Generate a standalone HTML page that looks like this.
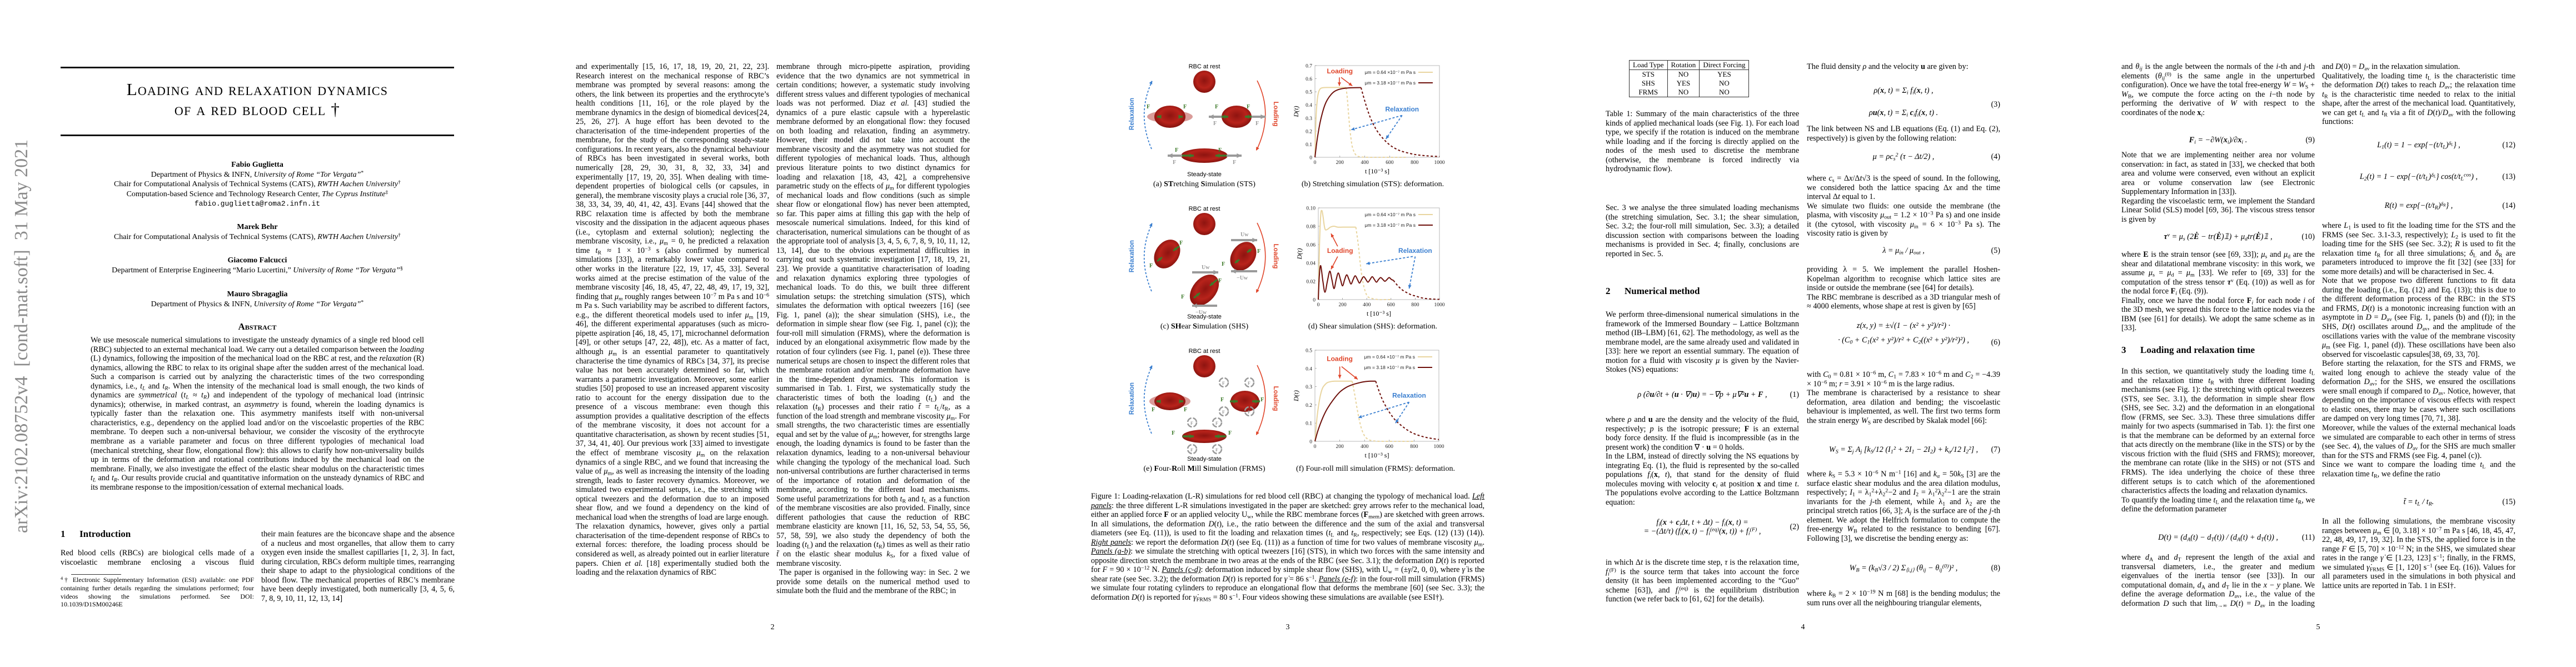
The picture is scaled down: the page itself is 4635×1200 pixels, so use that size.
<!DOCTYPE html>
<html lang="en">
<head>
<meta charset="utf-8">
<title>Loading and relaxation dynamics of a red blood cell</title>
<style>
html,body{margin:0;padding:0;background:#fff;}
body{width:4635px;height:1200px;position:relative;overflow:hidden;font-family:"Liberation Serif",serif;color:#000;}
.abs{position:absolute;}
.col{position:absolute;width:348px;font-size:14.2px;line-height:16.55px;text-align:justify;hyphens:auto;overflow:hidden;}
.wide{position:absolute;width:708px;font-size:14.2px;line-height:16.55px;text-align:justify;hyphens:auto;}
.eq{position:absolute;width:348px;font-size:14.2px;line-height:16px;text-align:center;font-style:italic;}
.eq .n{position:absolute;right:0;top:0;font-style:normal;}
.h{position:absolute;font-weight:bold;font-size:17px;line-height:20px;}
.h span{display:inline-block;width:34px;}
.pn{position:absolute;width:40px;text-align:center;font-size:14px;}
sub,sup{font-size:70%;line-height:0;}
sub{vertical-align:-0.25em;}
sup{vertical-align:0.45em;}
.ctr{position:absolute;text-align:center;}
table.t1{border-collapse:collapse;font-size:13px;line-height:16px;}
table.t1 td{border-left:1px solid #333;border-right:1px solid #333;padding:0 6px;text-align:center;}
table.t1 tr:first-child td{border-top:1px solid #333;border-bottom:1px solid #333;}
table.t1 tr:last-child td{border-bottom:1px solid #333;}
</style>
</head>
<body>

<div class="abs" style="left:39px;top:605px;transform:translate(-50%,-50%) rotate(-90deg);white-space:nowrap;font-size:34px;color:#8a8a8a;">arXiv:2102.08752v4&nbsp; [cond-mat.soft]&nbsp; 31 May 2021</div>

<!-- PAGE 1 -->
<div class="abs" style="left:109px;top:120px;width:708px;height:3px;background:#111;"></div>
<div class="ctr" style="left:109px;top:143px;width:708px;font-size:31px;line-height:36px;font-variant:small-caps;letter-spacing:1.2px;">Loading and relaxation dynamics<br>of a red blood cell †</div>
<div class="abs" style="left:109px;top:242px;width:708px;height:3px;background:#111;"></div>

<div class="ctr" style="left:109px;top:288px;width:708px;font-size:14px;line-height:17.6px;">
<b>Fabio Guglietta</b><br>Department of Physics &amp; INFN, <i>University of Rome “Tor Vergata”</i><sup>*</sup><br>Chair for Computational Analysis of Technical Systems (CATS), <i>RWTH Aachen University</i><sup>†</sup><br>Computation-based Science and Technology Research Center, <i>The Cyprus Institute</i><sup>‡</sup><br><span style="font-family:'Liberation Mono',monospace;font-size:13px;">fabio.guglietta@roma2.infn.it</span>
</div>
<div class="ctr" style="left:109px;top:400px;width:708px;font-size:14px;line-height:17.6px;"><b>Marek Behr</b><br>Chair for Computational Analysis of Technical Systems (CATS), <i>RWTH Aachen University</i><sup>†</sup></div>
<div class="ctr" style="left:109px;top:460px;width:708px;font-size:14px;line-height:17.6px;"><b>Giacomo Falcucci</b><br>Department of Enterprise Engineering “Mario Lucertini,” <i>University of Rome “Tor Vergata”</i><sup>§</sup></div>
<div class="ctr" style="left:109px;top:521px;width:708px;font-size:14px;line-height:17.6px;"><b>Mauro Sbragaglia</b><br>Department of Physics &amp; INFN, <i>University of Rome “Tor Vergata”</i><sup>*</sup></div>

<div class="ctr" style="left:109px;top:578px;width:708px;font-size:17px;font-weight:bold;font-variant:small-caps;">Abstract</div>
<div class="wide" style="left:163px;top:604px;width:600px;">We use mesoscale numerical simulations to investigate the unsteady dynamics of a single red blood cell (RBC) subjected to an external mechanical load. We carry out a detailed comparison between the <i>loading</i> (L) dynamics, following the imposition of the mechanical load on the RBC at rest, and the <i>relaxation</i> (R) dynamics, allowing the RBC to relax to its original shape after the sudden arrest of the mechanical load. Such a comparison is carried out by analyzing the characteristic times of the two corresponding dynamics, i.e., <i>t<sub>L</sub></i> and <i>t<sub>R</sub></i>. When the intensity of the mechanical load is small enough, the two kinds of dynamics are <i>symmetrical</i> (<i>t<sub>L</sub></i> ≈ <i>t<sub>R</sub></i>) and independent of the typology of mechanical load (intrinsic dynamics); otherwise, in marked contrast, an <i>asymmetry</i> is found, wherein the loading dynamics is typically faster than the relaxation one. This asymmetry manifests itself with non-universal characteristics, e.g., dependency on the applied load and/or on the viscoelastic properties of the RBC membrane. To deepen such a non-universal behaviour, we consider the viscosity of the erythrocyte membrane as a variable parameter and focus on three different typologies of mechanical load (mechanical stretching, shear flow, elongational flow): this allows to clarify how non-universality builds up in terms of the deformation and rotational contributions induced by the mechanical load on the membrane. Finally, we also investigate the effect of the elastic shear modulus on the characteristic times <i>t<sub>L</sub></i> and <i>t<sub>R</sub></i>. Our results provide crucial and quantitative information on the unsteady dynamics of RBC and its membrane response to the imposition/cessation of external mechanical loads.</div>

<div class="h" style="left:109px;top:951px;"><span>1</span>Introduction</div>
<div class="col" style="left:109px;top:987px;height:34px;">Red blood cells (RBCs) are biological cells made of a viscoelastic membrane enclosing a viscous fluid (cytoplasm):</div>
<div class="abs" style="left:128px;top:1033px;width:90px;height:1px;background:#333;"></div>
<div class="col" style="left:109px;top:1036px;font-size:12px;line-height:14.8px;height:60px;"><sup>4</sup>† Electronic Supplementary Information (ESI) available: one PDF containing further details regarding the simulations performed; four videos showing the simulations performed. See DOI: 10.1039/D1SM00246E</div>
<div class="col" style="left:470px;top:953px;height:133px;">their main features are the biconcave shape and the absence of a nucleus and most organelles, that allow them to carry oxygen even inside the smallest capillaries [1, 2, 3]. In fact, during circulation, RBCs deform multiple times, rearranging their shape to adapt to the physiological conditions of the blood flow. The mechanical properties of RBC’s membrane have been deeply investigated, both numerically [3, 4, 5, 6, 7, 8, 9, 10, 11, 12, 13, 14]</div>

<!-- PAGE 2 -->
<div class="col" style="left:1036px;top:112px;height:983px;">and experimentally [15, 16, 17, 18, 19, 20, 21, 22, 23]. Research interest on the mechanical response of RBC’s membrane was prompted by several reasons: among the others, the link between its properties and the erythrocyte’s health conditions [11, 16], or the role played by the membrane dynamics in the design of biomedical devices[24, 25, 26, 27]. A huge effort has been devoted to the characterisation of the time-independent properties of the membrane, for the study of the corresponding steady-state configurations. In recent years, also the dynamical behaviour of RBCs has been investigated in several works, both numerically [28, 29, 30, 31, 8, 32, 33, 34] and experimentally [17, 19, 20, 35]. When dealing with time-dependent properties of biological cells (or capsules, in general), the membrane viscosity plays a crucial role [36, 37, 38, 33, 34, 39, 40, 41, 42, 43]. Evans [44] showed that the RBC relaxation time is affected by both the membrane viscosity and the dissipation in the adjacent aqueous phases (i.e., cytoplasm and external solution); neglecting the membrane viscosity, i.e., <i>μ</i><sub>m</sub> = 0, he predicted a relaxation time <i>t</i><sub>R</sub> ≈ 1 × 10<sup>−3</sup> s (also confirmed by numerical simulations [33]), a remarkably lower value compared to other works in the literature [22, 19, 17, 45, 33]. Several works aimed at the precise estimation of the value of the membrane viscosity [46, 18, 45, 47, 22, 48, 49, 17, 19, 32], finding that <i>μ<sub>m</sub></i> roughly ranges between 10<sup>−7</sup> m Pa s and 10<sup>−6</sup> m Pa s. Such variability may be ascribed to different factors, e.g., the different theoretical models used to infer <i>μ</i><sub>m</sub> [19, 46], the different experimental apparatuses (such as micro-pipette aspiration [46, 18, 45, 17], microchannel deformation [49], or other setups [47, 22, 48]), etc. As a matter of fact, although <i>μ</i><sub>m</sub> is an essential parameter to quantitatively characterise the time dynamics of RBCs [34, 37], its precise value has not been accurately determined so far, which warrants a parametric investigation. Moreover, some earlier studies [50] proposed to use an increased apparent viscosity ratio to account for the energy dissipation due to the presence of a viscous membrane: even though this assumption provides a qualitative description of the effects of the membrane viscosity, it does not account for a quantitative characterisation, as shown by recent studies [51, 37, 34, 41, 40]. Our previous work [33] aimed to investigate the effect of membrane viscosity <i>μ</i><sub>m</sub> on the relaxation dynamics of a single RBC, and we found that increasing the value of <i>μ</i><sub>m</sub>, as well as increasing the intensity of the loading strength, leads to faster recovery dynamics. Moreover, we simulated two experimental setups, i.e., the stretching with optical tweezers and the deformation due to an imposed shear flow, and we found a dependency on the kind of mechanical load when the strengths of load are large enough.<br>The relaxation dynamics, however, gives only a partial characterisation of the time-dependent response of RBCs to external forces: therefore, the loading process should be considered as well, as already pointed out in earlier literature papers. Chien <i>et al.</i> [18] experimentally studied both the loading and the relaxation dynamics of RBC</div>
<div class="col" style="left:1397px;top:112px;height:983px;">membrane through micro-pipette aspiration, providing evidence that the two dynamics are not symmetrical in certain conditions; however, a systematic study involving different stress values and different typologies of mechanical loads was not performed. Diaz <i>et al.</i> [43] studied the dynamics of a pure elastic capsule with a hyperelastic membrane deformed by an elongational flow: they focused on both loading and relaxation, finding an asymmetry. However, their model did not take into account the membrane viscosity and the asymmetry was not studied for different typologies of mechanical loads. Thus, although previous literature points to two distinct dynamics for loading and relaxation [18, 43, 42], a comprehensive parametric study on the effects of <i>μ</i><sub>m</sub> for different typologies of mechanical loads and flow conditions (such as simple shear flow or elongational flow) has never been attempted, so far. This paper aims at filling this gap with the help of mesoscale numerical simulations. Indeed, for this kind of characterisation, numerical simulations can be thought of as the appropriate tool of analysis [3, 4, 5, 6, 7, 8, 9, 10, 11, 12, 13, 14], due to the obvious experimental difficulties in carrying out such systematic investigation [17, 18, 19, 21, 23]. We provide a quantitative characterisation of loading and relaxation dynamics exploring three typologies of mechanical loads. To do this, we built three different simulation setups: the stretching simulation (STS), which simulates the deformation with optical tweezers [16] (see Fig. 1, panel (a)); the shear simulation (SHS), i.e., the deformation in simple shear flow (see Fig. 1, panel (c)); the four-roll mill simulation (FRMS), where the deformation is induced by an elongational axisymmetric flow made by the rotation of four cylinders (see Fig. 1, panel (e)). These three numerical setups are chosen to inspect the different roles that the membrane rotation and/or membrane deformation have in the time-dependent dynamics. This information is summarised in Tab. 1. First, we systematically study the characteristic times of both the loading (<i>t</i><sub>L</sub>) and the relaxation (<i>t</i><sub>R</sub>) processes and their ratio <i>t̃</i> = <i>t</i><sub>L</sub>/<i>t</i><sub>R</sub>, as a function of the load strength and membrane viscosity <i>μ</i><sub>m</sub>. For small strengths, the two characteristic times are essentially equal and set by the value of <i>μ</i><sub>m</sub>; however, for strengths large enough, the loading dynamics is found to be faster than the relaxation dynamics, leading to a non-universal behaviour while changing the typology of the mechanical load. Such non-universal contributions are further characterised in terms of the importance of rotation and deformation of the membrane, according to the different load mechanisms. Some useful parametrizations for both <i>t</i><sub>R</sub> and <i>t</i><sub>L</sub> as a function of the membrane viscosities are also provided. Finally, since different pathologies that cause the reduction of RBC membrane elasticity are known [11, 16, 52, 53, 54, 55, 56, 57, 58, 59], we also study the dependency of both the loading (<i>t</i><sub>L</sub>) and the relaxation (<i>t</i><sub>R</sub>) times as well as their ratio <i>t̃</i> on the elastic shear modulus <i>k</i><sub>S</sub>, for a fixed value of membrane viscosity.<br>&nbsp;The paper is organised in the following way: in Sec. 2 we provide some details on the numerical method used to simulate both the fluid and the membrane of the RBC; in</div>
<div class="pn" style="left:1370px;top:1121px;">2</div>

<!-- PAGE 3 -->
<svg id="fig" class="abs" style="left:0;top:0;" width="4635" height="1200" xmlns="http://www.w3.org/2000/svg"></svg>
<div class="ctr" style="left:2017px;top:324px;width:300px;font-size:14px;">(a) <b>ST</b>retching <b>S</b>imulation (STS)</div>
<div class="ctr" style="left:2320px;top:324px;width:300px;font-size:14px;">(b) Stretching simulation (STS): deformation.</div>
<div class="ctr" style="left:2017px;top:580px;width:300px;font-size:14px;">(c) <b>SH</b>ear <b>S</b>imulation (SHS)</div>
<div class="ctr" style="left:2320px;top:580px;width:300px;font-size:14px;">(d) Shear simulation (SHS): deformation.</div>
<div class="ctr" style="left:2017px;top:836px;width:300px;font-size:14px;">(e) <b>F</b>our-<b>R</b>oll <b>M</b>ill <b>S</b>imulation (FRMS)</div>
<div class="ctr" style="left:2310px;top:836px;width:330px;font-size:14px;">(f) Four-roll mill simulation (FRMS): deformation.</div>
<div class="wide" style="left:1963px;top:885px;">Figure 1: Loading-relaxation (L-R) simulations for red blood cell (RBC) at changing the typology of mechanical load. <i><u>Left panels</u></i>: the three different L-R simulations investigated in the paper are sketched: grey arrows refer to the mechanical load, either an applied force <b>F</b> or an applied velocity U<sub>w</sub>, while the RBC membrane forces (<b>F</b><sub>mem</sub>) are sketched with green arrows. In all simulations, the deformation <i>D</i>(<i>t</i>), i.e., the ratio between the difference and the sum of the axial and transversal diameters (see Eq. (11)), is used to fit the loading and relaxation times (<i>t</i><sub>L</sub> and <i>t</i><sub>R</sub>, respectively; see Eqs. (12) (13) (14)). <i><u>Right panels</u></i>: we report the deformation <i>D</i>(<i>t</i>) (see Eq. (11)) as a function of time for two values of membrane viscosity <i>μ</i><sub>m</sub>. <i><u>Panels (a-b)</u></i>: we simulate the stretching with optical tweezers [16] (STS), in which two forces with the same intensity and opposite direction stretch the membrane in two areas at the ends of the RBC (see Sec. 3.1); the deformation <i>D</i>(<i>t</i>) is reported for <i>F</i> = 90 × 10<sup>−12</sup> N. <i><u>Panels (c-d)</u></i>: deformation induced by simple shear flow (SHS), with U<sub>w</sub> = (±<i>γ̇</i>/2, 0, 0), where <i>γ̇</i> is the shear rate (see Sec. 3.2); the deformation <i>D</i>(<i>t</i>) is reported for <i>γ̇</i> = 86 s<sup>−1</sup>. <i><u>Panels (e-f)</u></i>: in the four-roll mill simulation (FRMS) we simulate four rotating cylinders to reproduce an elongational flow that deforms the membrane [60] (see Sec. 3.3); the deformation <i>D</i>(<i>t</i>) is reported for <i>γ̇</i><sub>FRMS</sub> = 80 s<sup>−1</sup>. Four videos showing these simulations are available (see ESI†).</div>
<div class="pn" style="left:2297px;top:1121px;">3</div>

<!-- PAGE 4 -->
<div class="abs" style="left:2931px;top:108px;">
<table class="t1"><tr><td>Load Type</td><td>Rotation</td><td>Direct Forcing</td></tr><tr><td>STS</td><td>NO</td><td>YES</td></tr><tr><td>SHS</td><td>YES</td><td>NO</td></tr><tr><td>FRMS</td><td>NO</td><td>NO</td></tr></table></div>
<div class="col" style="left:2889px;top:197px;height:118px;">Table 1: Summary of the main characteristics of the three kinds of applied mechanical loads (see Fig. 1). For each load type, we specify if the rotation is induced on the membrane while loading and if the forcing is directly applied on the nodes of the mesh used to discretise the membrane (otherwise, the membrane is forced indirectly via hydrodynamic flow).</div>
<div class="col" style="left:2889px;top:366px;height:100px;">Sec. 3 we analyse the three simulated loading mechanisms (the stretching simulation, Sec. 3.1; the shear simulation, Sec. 3.2; the four-roll mill simulation, Sec. 3.3); a detailed discussion section with comparisons between the loading mechanisms is provided in Sec. 4; finally, conclusions are reported in Sec. 5.</div>
<div class="h" style="left:2889px;top:514px;"><span>2</span>Numerical method</div>
<div class="col" style="left:2889px;top:558px;height:117px;">We perform three-dimensional numerical simulations in the framework of the Immersed Boundary – Lattice Boltzmann method (IB–LBM) [61, 62]. The methodology, as well as the membrane model, are the same already used and validated in [33]: here we report an essential summary. The equation of motion for a fluid with viscosity <i>μ</i> is given by the Navier-Stokes (NS) equations:</div>
<div class="eq" style="left:2889px;top:702px;">ρ (∂<b>u</b>/∂t + (<b>u</b> · ∇)<b>u</b>) = −∇p + μ∇²<b>u</b> + <b>F</b> ,<span class="n">(1)</span></div>
<div class="col" style="left:2889px;top:747px;height:166px;">where <i>ρ</i> and <b>u</b> are the density and the velocity of the fluid, respectively; <i>p</i> is the isotropic pressure; <b>F</b> is an external body force density. If the fluid is incompressible (as in the present work) the condition ∇ · <b>u</b> = 0 holds.<br>In the LBM, instead of directly solving the NS equations by integrating Eq. (1), the fluid is represented by the so-called populations <i>f<sub>i</sub></i>(<b>x</b>, <i>t</i>), that stand for the density of fluid molecules moving with velocity <b>c</b><sub><i>i</i></sub> at position <b>x</b> and time <i>t</i>. The populations evolve according to the Lattice Boltzmann equation:</div>
<div class="eq" style="left:2889px;top:932px;">f<sub>i</sub>(<b>x</b> + <b>c</b><sub>i</sub>Δt, t + Δt) − f<sub>i</sub>(<b>x</b>, t) =<br>= −(Δt/τ) (f<sub>i</sub>(<b>x</b>, t) − f<sub>i</sub><sup>(eq)</sup>(<b>x</b>, t)) + f<sub>i</sub><sup>(F)</sup> ,<span class="n" style="top:8px;">(2)</span></div>
<div class="col" style="left:2889px;top:1004px;height:86px;">in which Δ<i>t</i> is the discrete time step, <i>τ</i> is the relaxation time, <i>f<sub>i</sub></i><sup>(F)</sup> is the source term that takes into account the force density (it has been implemented according to the “Guo” scheme [63]), and <i>f<sub>i</sub></i><sup>(eq)</sup> is the equilibrium distribution function (we refer back to [61, 62] for the details).</div>

<div class="col" style="left:3251px;top:112px;height:17px;">The fluid density <i>ρ</i> and the velocity <b>u</b> are given by:</div>
<div class="eq" style="left:3251px;top:143px;line-height:40px;">ρ(<b>x</b>, t) = Σ<sub>i</sub> f<sub>i</sub>(<b>x</b>, t) ,<br>ρ<b>u</b>(<b>x</b>, t) = Σ<sub>i</sub> <b>c</b><sub>i</sub>f<sub>i</sub>(<b>x</b>, t) .<span class="n" style="top:25px;">(3)</span></div>
<div class="col" style="left:3251px;top:224px;height:34px;">The link between NS and LB equations (Eq. (1) and Eq. (2), respectively) is given by the following relation:</div>
<div class="eq" style="left:3251px;top:274px;">μ = ρc<sub>s</sub><sup>2</sup> (τ − Δt/2) ,<span class="n">(4)</span></div>
<div class="col" style="left:3251px;top:313px;height:117px;">where <i>c</i><sub>s</sub> = Δ<i>x</i>/Δ<i>t</i>√3 is the speed of sound. In the following, we considered both the lattice spacing Δ<i>x</i> and the time interval Δ<i>t</i> equal to 1.<br>We simulate two fluids: one outside the membrane (the plasma, with viscosity <i>μ</i><sub>out</sub> = 1.2 × 10<sup>−3</sup> Pa s) and one inside it (the cytosol, with viscosity <i>μ</i><sub>in</sub> = 6 × 10<sup>−3</sup> Pa s). The viscosity ratio is given by</div>
<div class="eq" style="left:3251px;top:443px;">λ = μ<sub>in</sub> / μ<sub>out</sub> ,<span class="n">(5)</span></div>
<div class="col" style="left:3251px;top:477px;height:84px;">providing λ = 5. We implement the parallel Hoshen-Kopelman algorithm to recognise which lattice sites are inside or outside the membrane (see [64] for details).<br>The RBC membrane is described as a 3D triangular mesh of ≈ 4000 elements, whose shape at rest is given by [65]</div>
<div class="eq" style="left:3251px;top:573px;line-height:26px;">z(x, y) = ±√(1 − (x² + y²)/r²) ·<br>· (C<sub>0</sub> + C<sub>1</sub>(x² + y²)/r² + C<sub>2</sub>((x² + y²)/r²)²) ,<span class="n" style="top:30px;">(6)</span></div>
<div class="col" style="left:3251px;top:666px;height:117px;">with <i>C</i><sub>0</sub> = 0.81 × 10<sup>−6</sup> m, <i>C</i><sub>1</sub> = 7.83 × 10<sup>−6</sup> m and <i>C</i><sub>2</sub> = −4.39 × 10<sup>−6</sup> m; <i>r</i> = 3.91 × 10<sup>−6</sup> m is the large radius.<br>The membrane is characterised by a resistance to shear deformation, area dilation and bending; the viscoelastic behaviour is implemented, as well. The first two terms form the strain energy <i>W</i><sub>S</sub> are described by Skalak model [66]:</div>
<div class="eq" style="left:3251px;top:801px;">W<sub>S</sub> = Σ<sub>j</sub> A<sub>j</sub> [k<sub>S</sub>/12 (I<sub>1</sub>² + 2I<sub>1</sub> − 2I<sub>2</sub>) + k<sub>α</sub>/12 I<sub>2</sub>²] ,<span class="n">(7)</span></div>
<div class="col" style="left:3251px;top:845px;height:150px;">where <i>k</i><sub>S</sub> = 5.3 × 10<sup>−6</sup> N m<sup>−1</sup> [16] and <i>k<sub>α</sub></i> = 50<i>k</i><sub>S</sub> [3] are the surface elastic shear modulus and the area dilation modulus, respectively; <i>I</i><sub>1</sub> = λ<sub>1</sub><sup>2</sup>+λ<sub>2</sub><sup>2</sup>−2 and <i>I</i><sub>2</sub> = λ<sub>1</sub><sup>2</sup>λ<sub>2</sub><sup>2</sup>−1 are the strain invariants for the <i>j</i>-th element, while λ<sub>1</sub> and λ<sub>2</sub> are the principal stretch ratios [66, 3]; <i>A<sub>j</sub></i> is the surface are of the <i>j</i>-th element. We adopt the Helfrich formulation to compute the free-energy <i>W</i><sub>B</sub> related to the resistance to bending [67]. Following [3], we discretise the bending energy as:</div>
<div class="eq" style="left:3251px;top:1014px;">W<sub>B</sub> = (k<sub>B</sub>√3 / 2) Σ<sub>⟨i,j⟩</sub> (θ<sub>ij</sub> − θ<sub>ij</sub><sup>(0)</sup>)² ,<span class="n">(8)</span></div>
<div class="col" style="left:3251px;top:1060px;height:34px;">where <i>k</i><sub>B</sub> = 2 × 10<sup>−19</sup> N m [68] is the bending modulus; the sum runs over all the neighbouring triangular elements,</div>
<div class="pn" style="left:3224px;top:1121px;">4</div>

<!-- PAGE 5 -->
<div class="col" style="left:3817px;top:112px;height:100px;">and <i>θ<sub>ij</sub></i> is the angle between the normals of the <i>i</i>-th and <i>j</i>-th elements (<i>θ<sub>ij</sub></i><sup>(0)</sup> is the same angle in the unperturbed configuration). Once we have the total free-energy <i>W</i> = <i>W</i><sub>S</sub> + <i>W</i><sub>B</sub>, we compute the force acting on the <i>i</i>−th node by performing the derivative of <i>W</i> with respect to the coordinates of the node <b>x</b><sub><i>i</i></sub>:</div>
<div class="eq" style="left:3817px;top:244px;"><b>F</b><sub>i</sub> = −∂W(<b>x</b><sub>i</sub>)/∂<b>x</b><sub>i</sub> .<span class="n">(9)</span></div>
<div class="col" style="left:3817px;top:271px;height:133px;">Note that we are implementing neither area nor volume conservation: in fact, as stated in [33], we checked that both area and volume were conserved, even without an explicit area or volume conservation law (see Electronic Supplementary Information in [33]).<br>Regarding the viscoelastic term, we implement the Standard Linear Solid (SLS) model [69, 36]. The viscous stress tensor is given by</div>
<div class="eq" style="left:3817px;top:418px;"><b>τ</b><sup>ν</sup> = μ<sub>s</sub> (2<b>Ė</b> − tr(<b>Ė</b>)𝟙) + μ<sub>d</sub>tr(<b>Ė</b>)𝟙 ,<span class="n">(10)</span></div>
<div class="col" style="left:3817px;top:450px;height:150px;">where <b>E</b> is the strain tensor (see [69, 33]); <i>μ</i><sub>s</sub> and <i>μ</i><sub>d</sub> are the shear and dilatational membrane viscosity: in this work, we assume <i>μ</i><sub>s</sub> = <i>μ</i><sub>d</sub> = <i>μ</i><sub>m</sub> [33]. We refer to [69, 33] for the computation of the stress tensor <b><i>τ</i></b><sup>ν</sup> (Eq. (10)) as well as for the nodal force <b>F</b><sub><i>i</i></sub> (Eq. (9)).<br>Finally, once we have the nodal force <b>F</b><sub><i>i</i></sub> for each node <i>i</i> of the 3D mesh, we spread this force to the lattice nodes via the IBM (see [61] for details). We adopt the same scheme as in [33].</div>
<div class="h" style="left:3817px;top:620px;"><span>3</span>Loading and relaxation time</div>
<div class="col" style="left:3817px;top:660px;height:282px;">In this section, we quantitatively study the loading time <i>t</i><sub>L</sub> and the relaxation time <i>t</i><sub>R</sub> with three different loading mechanisms (see Fig. 1): the stretching with optical tweezers (STS, see Sec. 3.1), the deformation in simple shear flow (SHS, see Sec. 3.2) and the deformation in an elongational flow (FRMS, see Sec. 3.3). These three simulations differ mainly for two aspects (summarised in Tab. 1): the first one is that the membrane can be deformed by an external force that acts directly on the membrane (like in the STS) or by the viscous friction with the fluid (SHS and FRMS); moreover, the membrane can rotate (like in the SHS) or not (STS and FRMS). The idea underlying the choice of these three different setups is to catch which of the aforementioned characteristics affects the loading and relaxation dynamics.<br>To quantify the loading time <i>t</i><sub>L</sub> and the relaxation time <i>t</i><sub>R</sub>, we define the deformation parameter</div>
<div class="eq" style="left:3817px;top:959px;">D(t) = (d<sub>A</sub>(t) − d<sub>T</sub>(t)) / (d<sub>A</sub>(t) + d<sub>T</sub>(t)) ,<span class="n">(11)</span></div>
<div class="col" style="left:3817px;top:995px;height:100px;">where <i>d</i><sub>A</sub> and <i>d</i><sub>T</sub> represent the length of the axial and transversal diameters, i.e., the greater and medium eigenvalues of the inertia tensor (see [33]). In our computational domain, <i>d</i><sub>A</sub> and <i>d</i><sub>T</sub> lie in the <i>x</i> − <i>y</i> plane. We define the average deformation <i>D</i><sub>av</sub>, i.e., the value of the deformation <i>D</i> such that lim<sub><i>t</i>→∞</sub> <i>D</i>(<i>t</i>) = <i>D</i><sub>av</sub> in the loading simulation</div>

<div class="col" style="left:4178px;top:112px;height:117px;">and <i>D</i>(0) = <i>D</i><sub>av</sub> in the relaxation simulation.<br>Qualitatively, the loading time <i>t</i><sub>L</sub> is the characteristic time the deformation <i>D</i>(<i>t</i>) takes to reach <i>D</i><sub>av</sub>; the relaxation time <i>t</i><sub>R</sub> is the characteristic time needed to relax to the initial shape, after the arrest of the mechanical load. Quantitatively, we can get <i>t</i><sub>L</sub> and <i>t</i><sub>R</sub> via a fit of <i>D</i>(<i>t</i>)/<i>D</i><sub>av</sub> with the following functions:</div>
<div class="eq" style="left:4178px;top:253px;">L<sub>1</sub>(t) = 1 − exp{−(t/t<sub>L</sub>)<sup>δ<sub>L</sub></sup>} ,<span class="n">(12)</span></div>
<div class="eq" style="left:4178px;top:310px;">L<sub>2</sub>(t) = 1 − exp{−(t/t<sub>L</sub>)<sup>δ<sub>L</sub></sup>} cos(t/t<sub>L</sub><sup>cos</sup>) ,<span class="n">(13)</span></div>
<div class="eq" style="left:4178px;top:362px;">R(t) = exp{−(t/t<sub>R</sub>)<sup>δ<sub>R</sub></sup>} ,<span class="n">(14)</span></div>
<div class="col" style="left:4178px;top:398px;height:482px;">where <i>L</i><sub>1</sub> is used to fit the loading time for the STS and the FRMS (see Sec. 3.1-3.3, respectively); <i>L</i><sub>2</sub> is used to fit the loading time for the SHS (see Sec. 3.2); <i>R</i> is used to fit the relaxation time <i>t</i><sub>R</sub> for all three simulations; <i>δ</i><sub>L</sub> and <i>δ</i><sub>R</sub> are parameters introduced to improve the fit [32] (see [33] for some more details) and will be characterised in Sec. 4.<br>Note that we propose two different functions to fit data during the loading (i.e., Eq. (12) and Eq. (13)); this is due to the different deformation process of the RBC: in the STS and FRMS, <i>D</i>(<i>t</i>) is a monotonic increasing function with an asymptote in <i>D</i> = <i>D</i><sub>av</sub> (see Fig. 1, panels (b) and (f)); in the SHS, <i>D</i>(<i>t</i>) oscillates around <i>D</i><sub>av</sub>, and the amplitude of the oscillations varies with the value of the membrane viscosity <i>μ</i><sub>m</sub> (see Fig. 1, panel (d)). These oscillations have been also observed for viscoelastic capsules[38, 69, 33, 70].<br>Before starting the relaxation, for the STS and FRMS, we waited long enough to achieve the steady value of the deformation <i>D</i><sub>av</sub>; for the SHS, we ensured the oscillations were small enough if compared to <i>D</i><sub>av</sub>. Notice, however, that depending on the importance of viscous effects with respect to elastic ones, there may be cases where such oscillations are damped on very long times [70, 71, 38].<br>Moreover, while the values of the external mechanical loads we simulated are comparable to each other in terms of stress (see Sec. 4), the values of <i>D</i><sub>av</sub> for the SHS are much smaller than for the STS and FRMS (see Fig. 4, panel (c)).<br>Since we want to compare the loading time <i>t</i><sub>L</sub> and the relaxation time <i>t</i><sub>R</sub>, we define the ratio</div>
<div class="eq" style="left:4178px;top:895px;">t̃ = t<sub>L</sub> / t<sub>R</sub>.<span class="n">(15)</span></div>
<div class="col" style="left:4178px;top:930px;height:150px;">In all the following simulations, the membrane viscosity ranges between <i>μ</i><sub>m</sub> ∈ [0, 3.18] × 10<sup>−7</sup> m Pa s [46, 18, 45, 47, 22, 48, 49, 17, 19, 32]. In the STS, the applied force is in the range <i>F</i> ∈ [5, 70] × 10<sup>−12</sup> N; in the SHS, we simulated shear rates in the range <i>γ̇</i> ∈ [1.23, 123] s<sup>−1</sup>; finally, in the FRMS, we simulated <i>γ̇</i><sub>FRMS</sub> ∈ [1, 120] s<sup>−1</sup> (see Eq. (16)). Values for all parameters used in the simulations in both physical and lattice units are reported in Tab. 1 in ESI†.</div>
<div class="pn" style="left:4151px;top:1121px;">5</div>

<script>
const xTicks = [0, 200, 400, 600, 800, 1000];
const yTicksB = [0, 0.1, 0.2, 0.3, 0.4, 0.5, 0.6, 0.7];
const yTicksD = [0, 0.02, 0.04, 0.06, 0.08, 0.1];
const yTicksF = [0, 0.1, 0.2, 0.3, 0.4, 0.5];
const legendLabels = ["0.64", "3.18"];

const bLightLoadT = [0,5,10,20,30,40,50,70,100,150,200,250];
const bLightLoadD = [0,0.2,0.33,0.45,0.5,0.52,0.528,0.532,0.533,0.533,0.533,0.533];
const bLightRelT = [250,260,270,280,290,300,320,340,360,400,450,500,550,600,650,700,730];
const bLightRelD = [0.533,0.45,0.33,0.22,0.14,0.08,0.03,0.01,0.004,0.001,0,0,0,0,0,0,0];
const bDarkLoadT = [0,10,20,40,60,80,100,130,160,200,250,300,370];
const bDarkLoadD = [0,0.08,0.15,0.26,0.34,0.4,0.44,0.48,0.505,0.52,0.528,0.531,0.532];
const bDarkRelT = [370,400,430,460,500,550,600,650,700,800,900,1000];
const bDarkRelD = [0.532,0.43,0.34,0.27,0.2,0.14,0.095,0.065,0.045,0.022,0.011,0.006];

const dLightLoadT = [0,10,20,30,40,50,60,80,100,130,160,200,250,310];
const dLightLoadD = [0,0.06,0.092,0.097,0.09,0.08,0.076,0.077,0.079,0.08,0.079,0.079,0.079,0.079];
const dLightRelT = [310,330,350,370,390,410,450,500,550,600];
const dLightRelD = [0.079,0.06,0.035,0.018,0.008,0.003,0.001,0,0,0];
const dDarkLoadT = [0,8,20,38,55,75,95,112,130,148,165,183,200,218,235,253,270,288,305,323,340,358,375,393,410,428,445,463,480,498,515,533,550,568,585,603,620];
const dDarkLoadD = [0,0.025,0.037,0.02,0.008,0.02,0.031,0.022,0.012,0.022,0.029,0.022,0.015,0.022,0.027,0.022,0.017,0.022,0.026,0.022,0.018,0.022,0.025,0.022,0.019,0.022,0.025,0.022,0.019,0.022,0.024,0.022,0.02,0.022,0.024,0.022,0.021];
const dDarkRelT = [620,650,680,710,740,770,800,850,900,950,1000];
const dDarkRelD = [0.021,0.016,0.012,0.009,0.007,0.005,0.004,0.002,0.001,0.0005,0.0002];

const fLightLoadT = [0,10,20,40,60,80,100,130,160,200,250,300];
const fLightLoadD = [0,0.08,0.15,0.24,0.29,0.31,0.322,0.328,0.33,0.33,0.33,0.33];
const fLightRelT = [300,320,340,360,380,400,420,450,500,600,700,800];
const fLightRelD = [0.33,0.26,0.18,0.11,0.06,0.03,0.015,0.005,0.001,0,0,0];
const fDarkLoadT = [0,20,40,70,100,150,200,250,300,350,400,450,490];
const fDarkLoadD = [0,0.05,0.09,0.14,0.18,0.23,0.27,0.295,0.31,0.32,0.327,0.33,0.33];
const fDarkRelT = [490,520,550,600,650,700,750,800,850,900,950,1000];
const fDarkRelD = [0.33,0.27,0.22,0.16,0.115,0.085,0.06,0.042,0.03,0.021,0.015,0.01];

const NS = "http://www.w3.org/2000/svg";
const svg = document.getElementById("fig");
const LIGHT = "#e9d59f", DARK = "#6e100b", RED = "#e0452a", BLUE = "#3a7fd0";

function el(tag, attrs, parent) {
  const e = document.createElementNS(NS, tag);
  for (const k in attrs) e.setAttribute(k, attrs[k]);
  (parent || svg).appendChild(e);
  return e;
}
function txt(s, attrs, parent) {
  const e = el("text", attrs, parent);
  e.textContent = s;
  return e;
}
function smoothPath(pts) {
  if (pts.length < 2) return "";
  let d = "M" + pts[0][0].toFixed(2) + "," + pts[0][1].toFixed(2);
  for (let i = 0; i < pts.length - 1; i++) {
    const p0 = pts[Math.max(0, i - 1)], p1 = pts[i], p2 = pts[i + 1], p3 = pts[Math.min(pts.length - 1, i + 2)];
    const c1x = p1[0] + (p2[0] - p0[0]) / 6, c1y = p1[1] + (p2[1] - p0[1]) / 6;
    const c2x = p2[0] - (p3[0] - p1[0]) / 6, c2y = p2[1] - (p3[1] - p1[1]) / 6;
    d += " C" + c1x.toFixed(2) + "," + c1y.toFixed(2) + " " + c2x.toFixed(2) + "," + c2y.toFixed(2) + " " + p2[0].toFixed(2) + "," + p2[1].toFixed(2);
  }
  return d;
}
function arrowHead(g, x1, y1, x2, y2, color, size) {
  const a = Math.atan2(y2 - y1, x2 - x1), s = size || 6;
  const p = [[x2, y2], [x2 - s * Math.cos(a - 0.45), y2 - s * Math.sin(a - 0.45)], [x2 - s * Math.cos(a + 0.45), y2 - s * Math.sin(a + 0.45)]];
  return el("polygon", {points: p.map(q => q.join(",")).join(" "), fill: color}, g);
}

function drawChart(name, box, yTicks, yMax, yDec, series, ann) {
  const g = el("g", {});
  
  
  const xs = t => box.x + t / 1000 * box.w;
  const ys = v => box.y + box.h - v / yMax * box.h;
  el("rect", {x: box.x, y: box.y, width: box.w, height: box.h, fill: "none", stroke: "#a8a8a8", "stroke-width": 0.8}, g);
  xTicks.forEach(t => {
    el("line", {x1: xs(t), y1: box.y + box.h, x2: xs(t), y2: box.y + box.h - 3, stroke: "#888", "stroke-width": 0.7}, g);
    const lab = txt(String(t), {x: xs(t), y: box.y + box.h + 12, "text-anchor": "middle", "font-size": 9.5, "font-family": "Liberation Serif, serif", fill: "#222"}, g);
    
    
  });
  yTicks.forEach(v => {
    el("line", {x1: box.x, y1: ys(v), x2: box.x + 3, y2: ys(v), stroke: "#888", "stroke-width": 0.7}, g);
    const lab = txt(v === 0 ? "0" : v.toFixed(yDec), {x: box.x - 5, y: ys(v) + 3.5, "text-anchor": "end", "font-size": 9.5, "font-family": "Liberation Serif, serif", fill: "#222"}, g);
    
    
  });
  const yt = txt("D(t)", {x: box.x - 30, y: box.y + box.h / 2, "text-anchor": "middle", "font-size": 12, "font-style": "italic", "font-family": "Liberation Serif, serif", transform: "rotate(-90 " + (box.x - 30) + " " + (box.y + box.h / 2) + ")"}, g);
  
  
  const xt = txt("t [10⁻³ s]", {x: box.x + box.w / 2, y: box.y + box.h + 29, "text-anchor": "middle", "font-size": 12, "font-family": "Liberation Serif, serif"}, g);
  
  

  series.forEach(s => {
    const pts = s.t.map((t, i) => [xs(t), ys(s.d[i])]);
    const p = el("path", {d: smoothPath(pts), fill: "none", stroke: s.c, "stroke-width": 2, "stroke-dasharray": s.dash ? "4,3.5" : "none"}, g);
    
    
  });

  [[legendLabels[0], LIGHT], [legendLabels[1], DARK]].forEach((L, i) => {
    const ly = box.y + 12 + i * 19;
    const lt = txt("μm = " + L[0] + " ×10⁻⁷ m Pa s", {x: box.x + box.w - 43, y: ly + 3, "text-anchor": "end", "font-size": 8.5, "font-family": "Liberation Sans, sans-serif", fill: "#222"}, g);
    
    
    el("line", {x1: box.x + box.w - 38, y1: ly, x2: box.x + box.w - 12, y2: ly, stroke: L[1], "stroke-width": 2}, g);
  });

  const lg = txt("Loading", {x: xs(ann.load[0]), y: ys(ann.load[1]), "text-anchor": "middle", "font-size": 12, "font-weight": "bold", "font-family": "Liberation Sans, sans-serif", fill: RED}, g);
  
  
  ann.loadArrows.forEach(a => {
    el("line", {x1: xs(a[0]), y1: ys(a[1]), x2: xs(a[2]), y2: ys(a[3]), stroke: RED, "stroke-width": 1.6}, g);
    arrowHead(g, xs(a[0]), ys(a[1]), xs(a[2]), ys(a[3]), RED, 7);
  });
  const rl = txt("Relaxation", {x: xs(ann.rel[0]), y: ys(ann.rel[1]), "text-anchor": "middle", "font-size": 12, "font-weight": "bold", "font-family": "Liberation Sans, sans-serif", fill: BLUE}, g);
  
  
  ann.relArrows.forEach(a => {
    el("line", {x1: xs(a[0]), y1: ys(a[1]), x2: xs(a[2]), y2: ys(a[3]), stroke: BLUE, "stroke-width": 1.8, "stroke-dasharray": "4,3"}, g);
    arrowHead(g, xs(a[0]), ys(a[1]), xs(a[2]), ys(a[3]), BLUE, 7);
  });
}

drawChart("chart-b-sts", {x: 2366, y: 118, w: 224, h: 165}, yTicksB, 0.7, 1, [
  {name: "line-b-light-loading", t: bLightLoadT, d: bLightLoadD, c: LIGHT, dash: false},
  {name: "line-b-light-relaxation", t: bLightRelT, d: bLightRelD, c: LIGHT, dash: true},
  {name: "line-b-dark-loading", t: bDarkLoadT, d: bDarkLoadD, c: DARK, dash: false},
  {name: "line-b-dark-relaxation", t: bDarkRelT, d: bDarkRelD, c: DARK, dash: true}
], {load: [200, 0.64], loadArrows: [[196, 0.61, 196, 0.545], [210, 0.61, 300, 0.545]],
    rel: [700, 0.35], relArrows: [[700, 0.32, 290, 0.21], [700, 0.32, 570, 0.14]]});

drawChart("chart-d-shs", {x: 2372, y: 374, w: 218, h: 165}, yTicksD, 0.1, 2, [
  {name: "line-d-light-loading", t: dLightLoadT, d: dLightLoadD, c: LIGHT, dash: false},
  {name: "line-d-light-relaxation", t: dLightRelT, d: dLightRelD, c: LIGHT, dash: true},
  {name: "line-d-dark-loading", t: dDarkLoadT, d: dDarkLoadD, c: DARK, dash: false},
  {name: "line-d-dark-relaxation", t: dDarkRelT, d: dDarkRelD, c: DARK, dash: true}
], {load: [180, 0.051], loadArrows: [[160, 0.058, 105, 0.072], [160, 0.047, 105, 0.033]],
    rel: [800, 0.051], relArrows: [[780, 0.047, 395, 0.039], [800, 0.047, 750, 0.012]]});

drawChart("chart-f-frms", {x: 2366, y: 630, w: 223, h: 164}, yTicksF, 0.5, 1, [
  {name: "line-f-light-loading", t: fLightLoadT, d: fLightLoadD, c: LIGHT, dash: false},
  {name: "line-f-light-relaxation", t: fLightRelT, d: fLightRelD, c: LIGHT, dash: true},
  {name: "line-f-dark-loading", t: fDarkLoadT, d: fDarkLoadD, c: DARK, dash: false},
  {name: "line-f-dark-relaxation", t: fDarkRelT, d: fDarkRelD, c: DARK, dash: true}
], {load: [200, 0.44], loadArrows: [[200, 0.41, 200, 0.345], [215, 0.41, 345, 0.34]],
    rel: [760, 0.24], relArrows: [[760, 0.215, 350, 0.13], [760, 0.215, 650, 0.1]]});

const defs = el("defs", {});
const rg = el("radialGradient", {id: "cellg", cx: "50%", cy: "45%", r: "60%"}, defs);
el("stop", {offset: "0%", "stop-color": "#8e1410"}, rg);
el("stop", {offset: "55%", "stop-color": "#b8231b"}, rg);
el("stop", {offset: "100%", "stop-color": "#7a0f0b"}, rg);

function cell(g, cx, cy, rx, ry, rot) {
  el("ellipse", {cx: cx, cy: cy, rx: rx, ry: ry, fill: "url(#cellg)", transform: "rotate(" + (rot || 0) + " " + cx + " " + cy + ")"}, g);
}
function garrow(g, x1, y1, x2, y2, color, w) {
  el("line", {x1: x1, y1: y1, x2: x2, y2: y2, stroke: color, "stroke-width": w}, g);
  arrowHead(g, x1, y1, x2, y2, color, w * 2.4);
}
function label(g, s, x, y, color, size) {
  return txt(s, {x: x, y: y, "font-size": size, fill: color, "font-family": "Liberation Serif, serif", "font-weight": "bold"}, g);
}
function frame(g, dy) {
  const t1 = txt("RBC at rest", {x: 2167, y: 123 + dy, "text-anchor": "middle", "font-size": 11, "font-family": "Liberation Sans, sans-serif"}, g);
  
  
  cell(g, 2167, 147 + dy, 20, 20, 0);
  const t2 = txt("Steady-state", {x: 2167, y: 317 + dy, "text-anchor": "middle", "font-size": 11, "font-family": "Liberation Sans, sans-serif"}, g);
  
  
  el("path", {d: "M2072," + (268 + dy) + " Q2045," + (205 + dy) + " 2073," + (146 + dy), fill: "none", stroke: BLUE, "stroke-width": 1.8, "stroke-dasharray": "3.5,3"}, g);
  arrowHead(g, 2068, 156 + dy, 2073, 145 + dy, BLUE, 7);
  el("path", {d: "M2262," + (145 + dy) + " Q2292," + (205 + dy) + " 2261," + (270 + dy), fill: "none", stroke: RED, "stroke-width": 1.6}, g);
  arrowHead(g, 2266, 260 + dy, 2260, 271 + dy, RED, 7);
  const r = txt("Relaxation", {x: 2040, y: 205 + dy, "text-anchor": "middle", "font-size": 11.5, "font-weight": "bold", fill: BLUE, "font-family": "Liberation Sans, sans-serif", transform: "rotate(-90 2040 " + (205 + dy) + ")"}, g);
  
  
  const l = txt("Loading", {x: 2292, y: 205 + dy, "text-anchor": "middle", "font-size": 11.5, "font-weight": "bold", fill: RED, "font-family": "Liberation Sans, sans-serif", transform: "rotate(90 2292 " + (205 + dy) + ")"}, g);
  
  
}
const GREEN = "#3d7a2a", GREY = "#9a9a9a";

const ga = el("g", {});


frame(ga, 0);
el("ellipse", {cx: 2105, cy: 210, rx: 41, ry: 11, fill: "#c25a55", opacity: 0.6}, ga);
cell(ga, 2105, 210, 28, 20, 0);
garrow(ga, 2088, 210, 2082, 210, GREEN, 3.5); garrow(ga, 2122, 210, 2128, 210, GREEN, 3.5);
cell(ga, 2225, 210, 27, 20, 0);
garrow(ga, 2200, 210, 2175, 210, GREY, 4); garrow(ga, 2250, 210, 2277, 210, GREY, 4);
garrow(ga, 2198, 210, 2210, 210, GREEN, 3.5); garrow(ga, 2252, 210, 2240, 210, GREEN, 3.5);
cell(ga, 2167, 280, 42, 13, 0);
garrow(ga, 2127, 280, 2101, 280, GREY, 4); garrow(ga, 2207, 280, 2234, 280, GREY, 4);
garrow(ga, 2127, 280, 2148, 280, GREEN, 3.5); garrow(ga, 2207, 280, 2187, 280, GREEN, 3.5);
[[2063,195],[2129,195],[2186,195],[2243,195],[2114,273],[2192,273]].forEach(a=>label(ga,"F",a[0],a[1],GREEN,10));
[["F",2183,225],["F",2259,225],["F",2110,295],["F",2218,295]].forEach(a=>label(ga,a[0],a[1],a[2],GREY,10));

const gc = el("g", {});


frame(gc, 256);
cell(gc, 2100, 457, 21, 28, 35);
garrow(gc, 2122, 443, 2111, 451, GREEN, 3); garrow(gc, 2082, 470, 2091, 463, GREEN, 3);
cell(gc, 2237, 461, 21, 28, 35);
garrow(gc, 2215, 432, 2262, 432, GREY, 4); garrow(gc, 2262, 488, 2215, 488, GREY, 4);
garrow(gc, 2252, 448, 2244, 454, GREEN, 3); garrow(gc, 2222, 473, 2230, 467, GREEN, 3);
cell(gc, 2167, 522, 21, 32, 40);
garrow(gc, 2145, 490, 2192, 490, GREY, 4); garrow(gc, 2190, 550, 2145, 550, GREY, 4);
garrow(gc, 2190, 503, 2177, 514, GREEN, 3); garrow(gc, 2148, 536, 2159, 527, GREEN, 3);
[["F",2122,440],["F",2068,481],["F",2262,455],["F",2198,478],["F",2192,508],["F",2125,537]].forEach(a=>label(gc,a[0],a[1],a[2],GREEN,10));
[["Uw",2232,425],["Uw",2162,484],["−Uw",2225,503],["−Uw",2151,565]].forEach(a=>label(gc,a[0],a[1],a[2],GREY,10));

const ge = el("g", {});


frame(ge, 512);
el("ellipse", {cx: 2105, cy: 722, rx: 37, ry: 12, fill: "#c25a55", opacity: 0.6}, ge);
cell(ge, 2105, 722, 28, 16, 0);
garrow(ge, 2088, 722, 2081, 722, GREEN, 3.5); garrow(ge, 2122, 722, 2129, 722, GREEN, 3.5);
cell(ge, 2240, 722, 26, 19, 0);
garrow(ge, 2213, 722, 2227, 722, GREEN, 3.5); garrow(ge, 2267, 722, 2253, 722, GREEN, 3.5);
cell(ge, 2167, 785, 40, 12, 0);
garrow(ge, 2128, 785, 2148, 785, GREEN, 3.5); garrow(ge, 2206, 785, 2186, 785, GREEN, 3.5);
[[2202,688],[2248,688],[2202,740],[2248,740],[2145,760],[2190,760],[2145,808],[2190,808]].forEach(p => {
  el("circle", {cx: p[0], cy: p[1], r: 8, fill: "none", stroke: GREY, "stroke-width": 2.5, "stroke-dasharray": "10,3"}, ge);
  label(ge, "F", p[0] - 3, p[1] + 4, GREY, 8);
});
[["F",2072,740],["F",2130,740],["F",2196,722],["F",2268,722],["F",2108,782],["F",2210,782]].forEach(a=>label(ge,a[0],a[1],a[2],GREEN,10));
</script>
</body>
</html>
